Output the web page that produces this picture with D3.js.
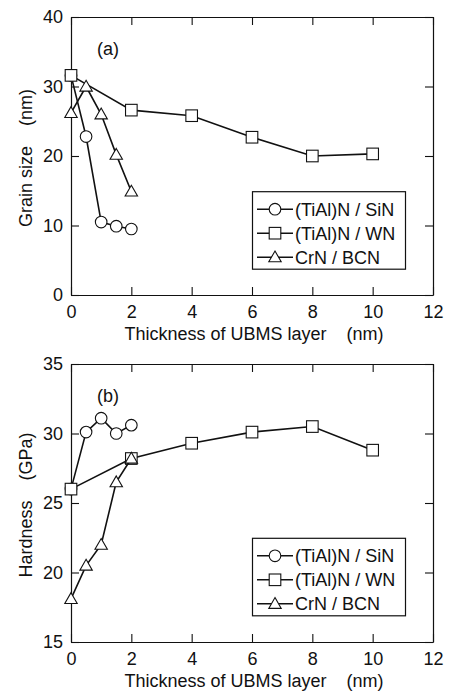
<!DOCTYPE html>
<html>
<head>
<meta charset="utf-8">
<script src="https://cdn.jsdelivr.net/npm/d3@7"></script>
<style>
  html, body { margin: 0; padding: 0; background: #fff; }
  svg { display: block; }
  text { font-family: "Liberation Sans", Arial, sans-serif; fill: #111; white-space: pre; }
</style>
</head>
<body>
<svg id="chart" width="449" height="691"></svg>
<script>
// ---- Data ----
const thicknessSiN = [0, 0.5, 1, 1.5, 2];
const thicknessWN = [0, 2, 4, 6, 8, 10];
const thicknessBCN = [0, 0.5, 1, 1.5, 2];

const grainSiN = [31.6, 22.8, 10.5, 9.9, 9.5];
const grainWN = [31.6, 26.6, 25.8, 22.7, 20.0, 20.3];
const grainBCN = [26.2, 30.0, 26.0, 20.2, 14.9];

const hardSiN = [26.0, 30.1, 31.1, 30.0, 30.6];
const hardWN = [26.0, 28.2, 29.3, 30.1, 30.5, 28.8];
const hardBCN = [18.1, 20.5, 22.0, 26.5, 28.2];

const seriesNames = ["(TiAl)N / SiN", "(TiAl)N / WN", "CrN / BCN"];
const seriesSymbols = ["circle", "square", "triangle"];
const xTicks = [0, 2, 4, 6, 8, 10, 12];
const grainTicks = [0, 10, 20, 30, 40];
const hardTicks = [15, 20, 25, 30, 35];
const xLabel = "Thickness of UBMS layer    (nm)";

const svg = d3.select("#chart");
const ink = "#111";

function drawMarker(g, type, x, y) {
  if (type === "circle") {
    g.append("circle").attr("cx", x).attr("cy", y).attr("r", 5.8)
      .attr("fill", "#fff").attr("stroke", ink).attr("stroke-width", 1.1);
  } else if (type === "square") {
    g.append("rect").attr("x", x - 5.8).attr("y", y - 5.8).attr("width", 11.6).attr("height", 11.6)
      .attr("fill", "#fff").attr("stroke", ink).attr("stroke-width", 1.1);
  } else {
    g.append("path").attr("d", `M${x},${y - 6.2}L${x + 6.2},${y + 4.6}L${x - 6.2},${y + 4.6}Z`)
      .attr("fill", "#fff").attr("stroke", ink).attr("stroke-width", 1.1);
  }
}

function panel(opts) {
  const { top, bottom, yDomain, yTicks, yLabel, tag, tagY, series, legendTop } = opts;
  const left = 71, right = 433;
  const x = d3.scaleLinear().domain([0, 12]).range([left, right]);
  const y = d3.scaleLinear().domain(yDomain).range([bottom, top]);
  const g = svg.append("g");

  const styleAxis = sel => {
    sel.selectAll("path.domain").attr("stroke", ink).attr("stroke-width", 1.2);
    sel.selectAll(".tick line").attr("stroke", ink).attr("stroke-width", 1.1);
    sel.selectAll("text").attr("font-size", 18).attr("fill", ink)
      .attr("font-family", '"Liberation Sans", Arial, sans-serif');
  };

  g.append("g").attr("transform", `translate(0,${bottom})`)
    .call(d3.axisBottom(x).tickValues(xTicks).tickSize(-8).tickSizeOuter(0).tickPadding(10).tickFormat(d3.format("d")))
    .call(styleAxis);
  g.append("g").attr("transform", `translate(0,${top})`)
    .call(d3.axisTop(x).tickValues(xTicks).tickSize(-8).tickSizeOuter(0).tickFormat(""))
    .call(styleAxis);
  g.append("g").attr("transform", `translate(${left},0)`)
    .call(d3.axisLeft(y).tickValues(yTicks).tickSize(-8).tickSizeOuter(0).tickPadding(8).tickFormat(d3.format("d")))
    .call(styleAxis);
  g.append("g").attr("transform", `translate(${right},0)`)
    .call(d3.axisRight(y).tickValues(yTicks).tickSize(-8).tickSizeOuter(0).tickFormat(""))
    .call(styleAxis);

  // axis labels
  g.append("text").attr("x", (left + right) / 2 + 2).attr("y", bottom + 45)
    .attr("text-anchor", "middle").attr("font-size", 18).text(xLabel);
  g.append("text").attr("transform", `translate(32,${(top + bottom) / 2 + 2}) rotate(-90)`)
    .attr("text-anchor", "middle").attr("font-size", 18).text(yLabel);

  g.append("text").attr("x", 108).attr("y", tagY).attr("text-anchor", "middle")
    .attr("font-size", 18).text(tag);

  const line = d3.line().x(d => x(d[0])).y(d => y(d[1]));
  series.forEach(s => {
    const pts = s.xs.map((v, i) => [v, s.ys[i]]);
    g.append("path").datum(pts).attr("d", line).attr("fill", "none")
      .attr("stroke", ink).attr("stroke-width", 1.6);
    pts.forEach(p => drawMarker(g, s.symbol, x(p[0]), y(p[1])));
  });

  // legend
  const lg = g.append("g");
  lg.append("rect").attr("x", 252.5).attr("y", legendTop).attr("width", 153).attr("height", 77.5)
    .attr("fill", "#fff").attr("stroke", ink).attr("stroke-width", 1.2);
  seriesNames.forEach((name, i) => {
    const ry = legendTop + 17.5 + i * 24;
    lg.append("line").attr("x1", 257).attr("x2", 293).attr("y1", ry).attr("y2", ry)
      .attr("stroke", ink).attr("stroke-width", 1.6);
    drawMarker(lg, seriesSymbols[i], 275, ry);
    lg.append("text").attr("x", 295).attr("y", ry).attr("dy", "0.36em")
      .attr("font-size", 18).text(name);
  });
}

panel({
  top: 17, bottom: 295, yDomain: [0, 40], yTicks: grainTicks,
  yLabel: "Grain size    (nm)", tag: "(a)", tagY: 55, legendTop: 191.7,
  series: [
    { xs: thicknessSiN, ys: grainSiN, symbol: "circle" },
    { xs: thicknessWN, ys: grainWN, symbol: "square" },
    { xs: thicknessBCN, ys: grainBCN, symbol: "triangle" }
  ]
});

panel({
  top: 364, bottom: 642, yDomain: [15, 35], yTicks: hardTicks,
  yLabel: "Hardness    (GPa)", tag: "(b)", tagY: 402, legendTop: 538.3,
  series: [
    { xs: thicknessSiN, ys: hardSiN, symbol: "circle" },
    { xs: thicknessWN, ys: hardWN, symbol: "square" },
    { xs: thicknessBCN, ys: hardBCN, symbol: "triangle" }
  ]
});
</script>
</body>
</html>
